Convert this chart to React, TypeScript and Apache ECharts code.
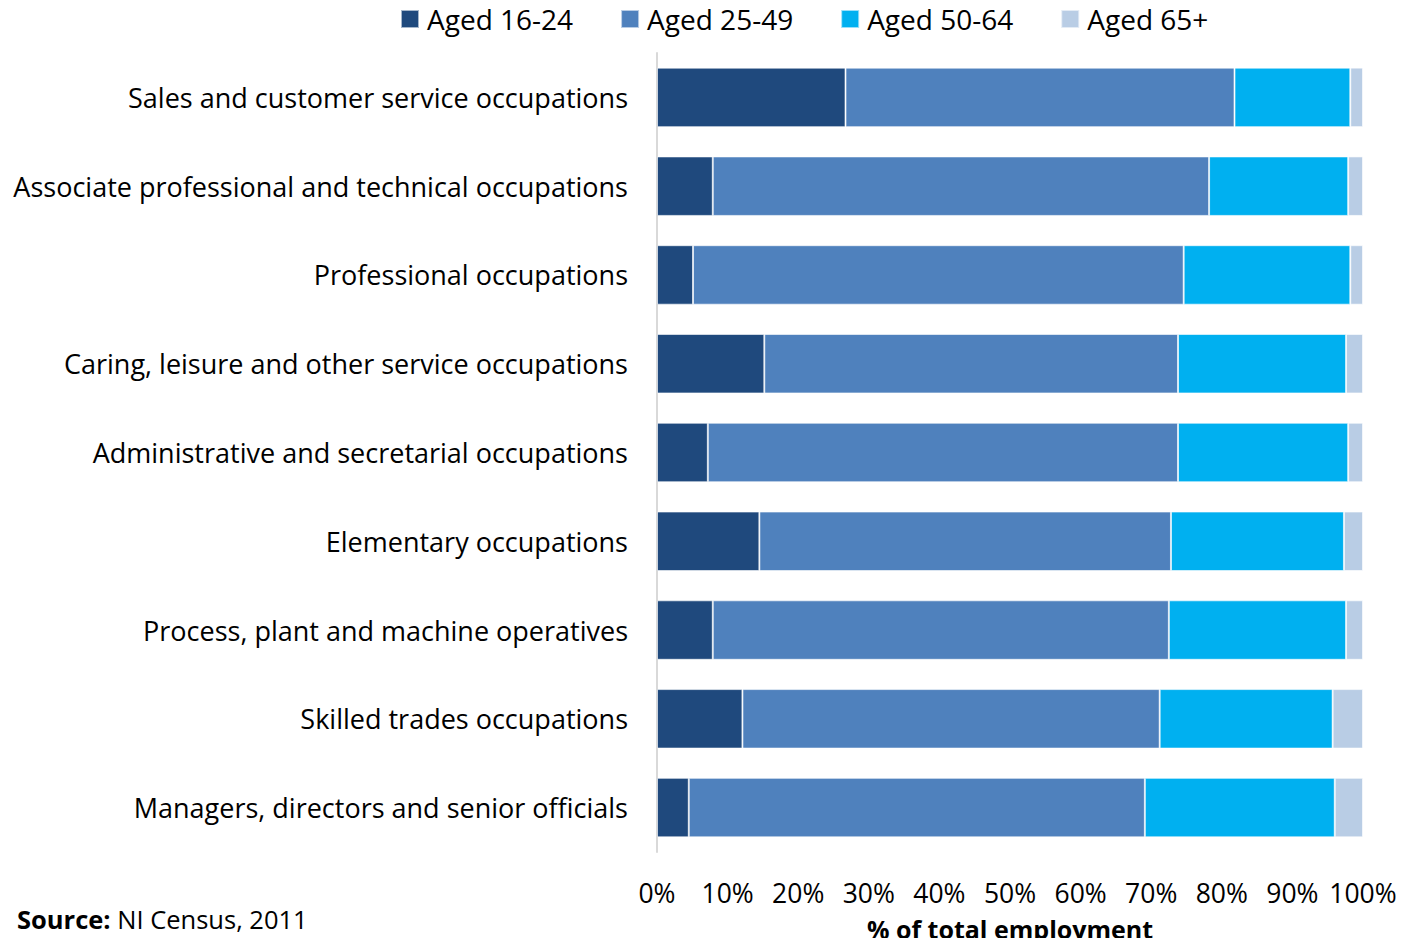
import React, { useEffect, useRef } from "react";
import * as echarts from "echarts";

const categories = [
  "Sales and customer service occupations",
  "Associate professional and technical occupations",
  "Professional occupations",
  "Caring, leisure and other service occupations",
  "Administrative and secretarial occupations",
  "Elementary occupations",
  "Process, plant and machine operatives",
  "Skilled trades occupations",
  "Managers, directors and senior officials",
];

const aged1624 = [26.7, 7.9, 5.1, 15.2, 7.2, 14.5, 7.9, 12.1, 4.5];
const aged2549 = [55.1, 70.3, 69.5, 58.6, 66.6, 58.3, 64.6, 59.1, 64.6];
const aged5064 = [16.4, 19.7, 23.6, 23.8, 24.1, 24.5, 25.1, 24.5, 26.9];
const aged65 = [1.8, 2.1, 1.8, 2.4, 2.1, 2.7, 2.4, 4.3, 4.0];

const seriesNames = ["Aged 16-24", "Aged 25-49", "Aged 50-64", "Aged 65+"];
const seriesData = [aged1624, aged2549, aged5064, aged65];
const colors = ["#1F497D", "#4F81BD", "#00B0F0", "#B9CDE5"];

const FONT = "'Open Sans', Lato, sans-serif";

export default function App() {
  const ref = useRef<HTMLDivElement>(null);
  useEffect(() => {
    if (!ref.current) return;
    const chart = echarts.init(ref.current, undefined, { renderer: "svg" });
    chart.setOption({
      animation: false,
      textStyle: { fontFamily: FONT },
      legend: {
        top: 0,
        left: 395,
        itemWidth: 18,
        itemHeight: 18,
        itemGap: 47,
        textStyle: { fontSize: 28, color: "#000", fontFamily: FONT, padding: [0, 0, 0, 3] },
        data: seriesNames,
        icon: "rect",
      },
      grid: { left: 657, right: 43, top: 53, bottom: 94, containLabel: false, outerBoundsMode: "none" },
      xAxis: {
        type: "value",
        min: 0,
        max: 100,
        interval: 10,
        axisLine: { show: false },
        axisTick: { show: false },
        splitLine: { show: false },
        axisLabel: {
          formatter: "{value}%",
          fontSize: 26.5,
          color: "#000",
          margin: 27,
          fontFamily: FONT,
        },
        name: "% of total employment",
        nameLocation: "middle",
        nameGap: 64,
        nameTextStyle: { fontSize: 25, fontWeight: "bold", color: "#000", fontFamily: FONT },
      },
      yAxis: {
        type: "category",
        inverse: true,
        data: categories,
        axisLine: { show: true, lineStyle: { color: "#D9D9D9", width: 2 } },
        axisTick: { show: false },
        axisLabel: { fontSize: 27, color: "#000", margin: 29, fontFamily: FONT },
      },
      series: seriesNames.map((name, i) => ({
        name,
        type: "bar",
        stack: "total",
        barWidth: "67%",
        data: seriesData[i],
        itemStyle: { color: colors[i], borderColor: "rgba(255,255,255,0.6)", borderWidth: 1 },
      })),
      graphic: [
        {
          type: "text",
          left: 17,
          top: 906,
          style: {
            text: "{b|Source:} NI Census, 2011",
            rich: {
              b: { fontWeight: "bold", fontSize: 25.5, fill: "#000", fontFamily: FONT },
            },
            fontSize: 25.5,
            fill: "#000",
            fontFamily: FONT,
          },
        },
      ],
    });
    return () => chart.dispose();
  }, []);
  return <div ref={ref} style={{ width: 1406, height: 946, margin: -8 }} />;
}
